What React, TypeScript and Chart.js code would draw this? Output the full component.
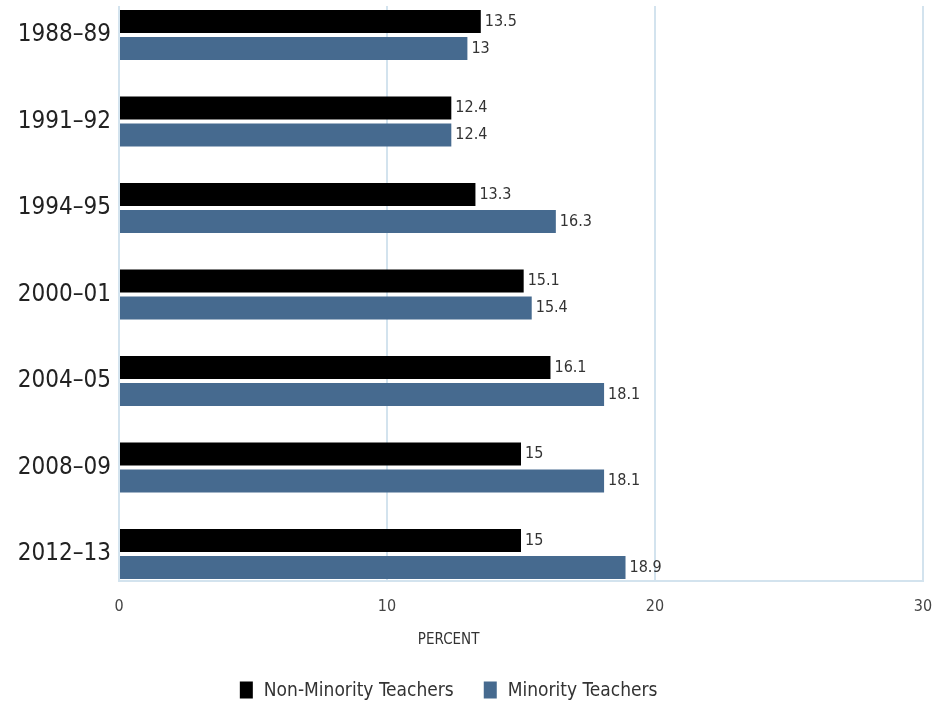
import { useEffect, useRef } from "react";
import { Chart, registerables } from "chart.js";

Chart.register(...registerables);

// School years on the vertical axis
const schoolYears = ["1988–89", "1991–92", "1994–95", "2000–01", "2004–05", "2008–09", "2012–13"];
// Percent of teachers, by group
const nonMinorityTeachers = [13.5, 12.4, 13.3, 15.1, 16.1, 15, 15];
const minorityTeachers = [13, 12.4, 16.3, 15.4, 18.1, 18.1, 18.9];
// Horizontal axis ticks
const percentTicks = [0, 10, 20, 30];
const seriesNames = ["Non-Minority Teachers", "Minority Teachers"];
const seriesColors = ["#000000", "#466a8f"];
const axisTitle = "PERCENT";

const NARROW = "'DejaVu Sans Condensed', 'Liberation Sans', sans-serif";
const GRID = "#d3e3ee";

// Writes each bar's value just past its end
const valueLabels = {
  id: "valueLabels",
  afterDatasetsDraw(chart: any) {
    const ctx = chart.ctx;
    ctx.save();
    ctx.font = `16px ${NARROW}`;
    ctx.fillStyle = "#333333";
    ctx.textAlign = "left";
    ctx.textBaseline = "middle";
    chart.data.datasets.forEach((ds: any, di: number) => {
      const meta = chart.getDatasetMeta(di);
      meta.data.forEach((bar: any, i: number) => {
        ctx.fillText(String(ds.data[i].x), bar.x + 4, bar.y);
      });
    });
    ctx.restore();
  },
};

// Axis caption and series key below the plot
const captionAndKey = {
  id: "captionAndKey",
  afterDraw(chart: any) {
    const ctx = chart.ctx;
    const { left, right, bottom } = chart.chartArea;
    const cx = left + (right - left) * 0.41;
    ctx.save();
    ctx.fillStyle = "#333333";
    ctx.font = `15px ${NARROW}`;
    ctx.textAlign = "center";
    ctx.textBaseline = "middle";
    ctx.fillText(axisTitle, cx, bottom + 59);

    ctx.font = `19px ${NARROW}`;
    const boxW = 13;
    const boxH = 17;
    const textGap = 11;
    const itemGap = 30;
    const items = chart.data.datasets.map((ds: any) => ({
      text: ds.label,
      color: ds.backgroundColor,
      w: boxW + textGap + ctx.measureText(ds.label).width,
    }));
    const total = items.reduce((s: number, it: any) => s + it.w, 0) + itemGap * (items.length - 1);
    let x = cx - total / 2;
    const y = bottom + 109;
    ctx.textAlign = "left";
    items.forEach((it: any) => {
      ctx.fillStyle = it.color;
      ctx.fillRect(x, y - boxH / 2, boxW, boxH);
      ctx.fillStyle = "#333333";
      ctx.fillText(it.text, x + boxW + textGap, y + 1);
      x += it.w + itemGap;
    });
    ctx.restore();
  },
};

export default function App() {
  const canvasRef = useRef<HTMLCanvasElement | null>(null);

  useEffect(() => {
    const canvas = canvasRef.current;
    if (!canvas) return;
    const chart = new Chart(canvas, {
      type: "bar",
      data: {
        datasets: [
          {
            label: seriesNames[0],
            data: nonMinorityTeachers.map((v, i) => ({ x: v, y: i })),
            backgroundColor: seriesColors[0],
            borderWidth: 0,
          },
          {
            label: seriesNames[1],
            data: minorityTeachers.map((v, i) => ({ x: v, y: i })),
            backgroundColor: seriesColors[1],
            borderWidth: 0,
          },
        ],
      },
      options: {
        indexAxis: "y",
        responsive: false,
        animation: false,
        categoryPercentage: 0.626,
        barPercentage: 0.85,
        layout: { padding: { top: 6, right: 15, left: 0, bottom: 0 } },
        plugins: {
          legend: { display: false },
          tooltip: { enabled: false },
        },
        scales: {
          x: {
            type: "linear",
            position: "bottom",
            min: 0,
            max: 30,
            afterBuildTicks: (scale: any) => {
              scale.ticks = percentTicks.map((v) => ({ value: v }));
            },
            afterFit: (scale: any) => {
              scale.height = 126;
              scale.paddingLeft = 0;
              scale.paddingRight = 0;
            },
            ticks: {
              color: "#444444",
              font: { family: NARROW, size: 16 },
              padding: 16,
            },
            grid: { color: GRID, lineWidth: 2, drawTicks: false },
            border: { display: true, color: GRID, width: 2 },
          },
          y: {
            type: "linear",
            offset: false,
            reverse: true,
            min: -0.335,
            max: 6.312,
            afterBuildTicks: (scale: any) => {
              scale.ticks = schoolYears.map((_, i) => ({ value: i }));
            },
            afterFit: (scale: any) => {
              scale.width = 119;
              scale.paddingTop = 0;
              scale.paddingBottom = 0;
            },
            ticks: {
              color: "#222222",
              font: { family: NARROW, size: 24 },
              padding: 8,
              callback: (value: any) => schoolYears[Math.round(Number(value))] ?? "",
            },
            grid: { display: false, drawTicks: false },
            border: { display: false },
          },
        },
      },
      plugins: [valueLabels, captionAndKey],
    });
    return () => chart.destroy();
  }, []);

  return (
    <div style={{ position: "fixed", left: 0, top: 0, width: 938, height: 707, background: "#ffffff" }}>
      <canvas ref={canvasRef} width={938} height={707} style={{ display: "block" }} />
    </div>
  );
}
